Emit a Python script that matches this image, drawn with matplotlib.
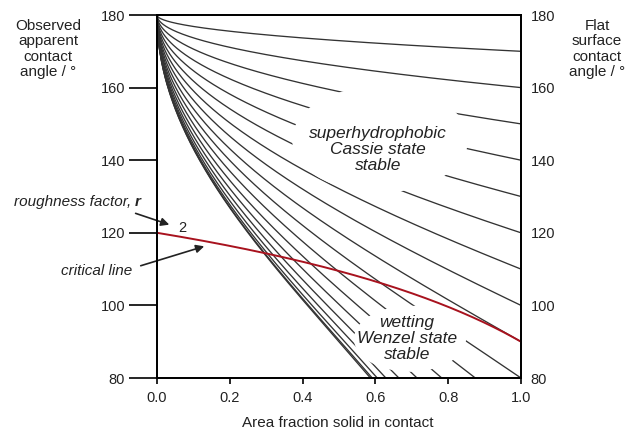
import numpy as np
import matplotlib
matplotlib.use("Agg")
import matplotlib.pyplot as plt
from matplotlib.patches import Ellipse

# flat surface contact angles (right axis), degrees
flat_angles = [0, 10, 20, 30, 40, 50, 60, 70, 80, 90,
               100, 110, 120, 130, 140, 150, 160, 170]
# roughness factor of the critical line
roughness = 2
x_ticks = [0.0, 0.2, 0.4, 0.6, 0.8, 1.0]
y_ticks = [80, 100, 120, 140, 160, 180]

plt.rcParams['font.family'] = ['Liberation Sans', 'DejaVu Sans']
txt = '#222222'

fig = plt.figure(figsize=(6.29, 4.32), dpi=100)
ax = fig.add_axes([157/629, 54/432, 364/629, 363/432])

f = np.linspace(0, 1, 400)
# Cassie-Baxter lines for each flat surface angle
for th in flat_angles:
    c = f * (1 + np.cos(np.radians(th))) - 1
    ax.plot(f, np.degrees(np.arccos(c)), color='#333333', lw=0.95, zorder=2)

# critical line
cc = (f - 1) / (roughness - f)
ax.plot(f, np.degrees(np.arccos(cc)), color='#a8121e', lw=1.4, zorder=4)

# white areas behind region labels
ax.add_patch(Ellipse((0.613, 145.7), 0.4835, 29.3, fc='white', ec='none', zorder=3))
ax.add_patch(Ellipse((0.695, 90.8), 0.308, 18.2, fc='white', ec='none', zorder=3))

ax.text(0.607, 143.0, 'superhydrophobic\nCassie state\nstable', ha='center', va='center',
        style='italic', fontsize=12.5, linespacing=1.1, color=txt, zorder=5)
ax.text(0.687, 90.8, 'wetting\nWenzel state\nstable', ha='center', va='center',
        style='italic', fontsize=12.5, linespacing=1.1, color=txt, zorder=5)

# annotations on the left
ax.text(-0.06, 128.4, 'roughness factor, ', ha='right', va='center', style='italic',
        fontsize=11, color=txt, clip_on=False)
ax.text(-0.062, 128.4, 'r', ha='left', va='center', style='italic', weight='bold',
        fontsize=11, color=txt, clip_on=False)
ax.text(0.069, 121.2, str(roughness), ha='center', va='center', fontsize=10.5, color=txt)
ax.annotate('', xy=(0.041, 122.0), xytext=(-0.066, 125.6), annotation_clip=False,
            arrowprops=dict(arrowstyle='-|>', color='#222222', lw=1.2, mutation_scale=12))
ax.text(-0.069, 109.6, 'critical line', ha='right', va='center', style='italic',
        fontsize=11, color=txt, clip_on=False)
ax.annotate('', xy=(0.137, 116.5), xytext=(-0.052, 110.7), annotation_clip=False,
            arrowprops=dict(arrowstyle='-|>', color='#222222', lw=1.2, mutation_scale=12))

ax.set_xlim(0, 1)
ax.set_ylim(80, 180)
ax.set_xticks(x_ticks)
ax.set_xticklabels(['%.1f' % v for v in x_ticks])
ax.set_yticks(y_ticks)
ax.tick_params(axis='y', direction='out', length=20, width=1.2, pad=3,
               labelsize=10.5, labelcolor=txt)
ax.tick_params(axis='x', direction='out', length=4.5, width=1.2, pad=5,
               labelsize=10.5, labelcolor=txt)
for s in ax.spines.values():
    s.set_linewidth(1.3)

ax2 = ax.twinx()
ax2.set_ylim(80, 180)
ax2.set_yticks(y_ticks)
ax2.tick_params(length=0, pad=7, labelsize=10.5, labelcolor=txt)
for s in ax2.spines.values():
    s.set_linewidth(1.3)

fig.text(48/629, 1 - 49/432, 'Observed\napparent\ncontact\nangle / °', ha='center',
         va='center', fontsize=11, linespacing=1.15, color=txt)
fig.text(597/629, 1 - 49/432, 'Flat\nsurface\ncontact\nangle / °', ha='center',
         va='center', fontsize=11, linespacing=1.15, color=txt)
fig.text(338/629, 1 - 423/432, 'Area fraction solid in contact', ha='center',
         va='center', fontsize=11, color=txt)

plt.savefig('out.png', dpi=100)
